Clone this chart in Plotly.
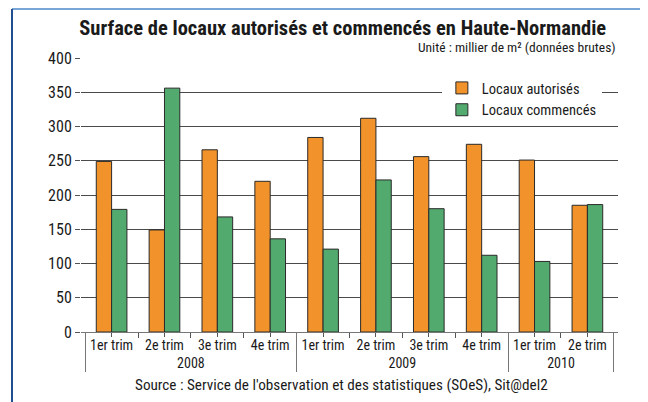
import plotly.graph_objects as go

years = ["2008", "2008", "2008", "2008", "2009", "2009", "2009", "2009", "2010", "2010"]
quarters = ["1er trim", "2e trim", "3e trim", "4e trim",
            "1er trim", "2e trim", "3e trim", "4e trim",
            "1er trim", "2e trim"]
autorises = [249, 149, 266, 220, 284, 312, 256, 274, 251, 185]
commences = [179, 356, 168, 136, 121, 222, 180, 112, 103, 186]
y_ticks = [0, 50, 100, 150, 200, 250, 300, 350, 400]

FONT = "Liberation Sans Narrow, Roboto Condensed, Arial Narrow, Liberation Sans, sans-serif"
ORANGE = "#f2922a"
GREEN = "#52aa6e"

fig = go.Figure()
fig.add_trace(go.Bar(name="Locaux autorisés", x=[years, quarters], y=autorises,
                     marker=dict(color=ORANGE, line=dict(color="#2a2a2a", width=1))))
fig.add_trace(go.Bar(name="Locaux commencés", x=[years, quarters], y=commences,
                     marker=dict(color=GREEN, line=dict(color="#2a2a2a", width=1))))
# invisible helper trace so a second axis can draw the centre ticks
fig.add_trace(go.Scatter(x=[years, quarters], y=autorises, xaxis="x2", mode="markers",
                         marker=dict(opacity=0), showlegend=False, hoverinfo="skip"))

W, H = 640, 394
fig.update_layout(
    width=W, height=H,
    margin=dict(l=73, r=30, t=50, b=70),
    paper_bgcolor="white", plot_bgcolor="white",
    barmode="group", bargap=0.42, bargroupgap=0,
    font=dict(family=FONT, size=13, color="#1a1a1a"),
    showlegend=True,
    legend=dict(x=0.672, y=0.949, xanchor="left", yanchor="top",
                bgcolor="white", font=dict(size=14.5), itemwidth=30),
    title=dict(text="<b>Surface de locaux autorisés et commencés en Haute-Normandie</b>",
               x=0.523, xanchor="center", y=0.949, yanchor="middle",
               font=dict(size=20.5, family=FONT, color="#1a1a1a")),
    xaxis2=dict(type="multicategory", overlaying="x", matches="x", side="bottom",
                showticklabels=False, ticks="outside", ticklen=4, tickcolor="#555",
                tickson="labels", showdividers=False, showgrid=False, showline=False,
                zeroline=False, automargin=False),
)
fig.update_yaxes(range=[0, 400], tickvals=y_ticks, ticks="outside", ticklen=5,
                 tickcolor="#555", showgrid=True, gridcolor="#4a4a4a", gridwidth=1.3,
                 zeroline=False, showline=False, tickfont=dict(size=16), fixedrange=True)
fig.layout.xaxis.update(type="multicategory", showline=True, linecolor="#777", linewidth=1.3,
                        ticks="outside", ticklen=5, tickcolor="#555", tickson="boundaries",
                        showdividers=True, dividercolor="#777", dividerwidth=1.3,
                        tickangle=0, automargin=False, tickfont=dict(size=14))

fig.add_annotation(text="Unité : millier de m² (données brutes)", xref="paper", yref="paper",
                   x=1.0, y=1.0, xanchor="right", yanchor="bottom", showarrow=False,
                   font=dict(size=13.5), yshift=1)
fig.add_annotation(text="Source : Service de l'observation et des statistiques (SOeS), Sit@del2",
                   xref="paper", yref="paper", x=0.486, y=0, yshift=-53, xanchor="center",
                   yanchor="middle", showarrow=False, font=dict(size=15.2))

# decorative frame
fig.add_shape(type="line", xref="paper", yref="paper", x0=-0.1285, x1=1.06, y0=1.1788, y1=1.1788,
              line=dict(color="#79a6d6", width=2))
fig.add_shape(type="line", xref="paper", yref="paper", x0=-0.1285, x1=-0.1285, y0=1.1788, y1=-0.26,
              line=dict(color="#1f4f8f", width=2))

fig.write_html("out.html")
